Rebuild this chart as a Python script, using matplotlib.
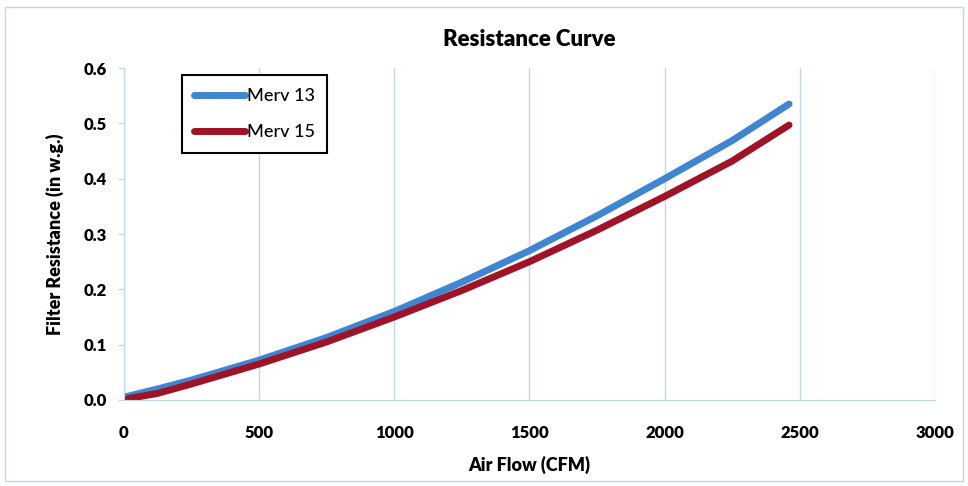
import matplotlib.pyplot as plt

# data
flow_13 = [0, 125, 250, 500, 750, 1000, 1250, 1500, 1750, 2000, 2250, 2460]
merv_13 = [0.005, 0.020, 0.036, 0.072, 0.113, 0.160, 0.213, 0.270, 0.333, 0.400, 0.469, 0.535]
flow_15 = [0, 125, 250, 500, 750, 1000, 1250, 1500, 1750, 2000, 2250, 2460]
merv_15 = [0.001, 0.012, 0.029, 0.065, 0.105, 0.150, 0.198, 0.250, 0.307, 0.368, 0.432, 0.497]
x_ticks = [0, 500, 1000, 1500, 2000, 2500, 3000]
y_ticks = [0.0, 0.1, 0.2, 0.3, 0.4, 0.5, 0.6]

plt.rcParams['font.family'] = ['Lato', 'DejaVu Sans']
grid_c = "#bcd8ee"

fig = plt.figure(figsize=(9.68, 4.86), dpi=100)
ax = fig.add_axes([0.128, 0.177, 0.838, 0.683])

ax.plot(flow_13, merv_13, color="#3f86d2", lw=5, solid_capstyle="round", label="Merv 13")
ax.plot(flow_15, merv_15, color="#a01225", lw=5, solid_capstyle="round", label="Merv 15")

ax.set_xlim(0, 3000)
ax.set_ylim(0, 0.6)
ax.set_xticks(x_ticks)
ax.set_yticks(y_ticks)
ax.set_yticklabels([f"{v:.1f}" for v in y_ticks])
ax.grid(axis="x", color=grid_c, lw=1)
ax.set_axisbelow(True)
for s in ["top", "right"]:
    ax.spines[s].set_visible(False)
for s in ["left", "bottom"]:
    ax.spines[s].set_color(grid_c)
ax.tick_params(axis="y", length=4, color=grid_c, labelsize=12, pad=8)
ax.tick_params(axis="x", length=0, labelsize=12, pad=18)
for lab in ax.get_xticklabels() + ax.get_yticklabels():
    lab.set_fontweight("heavy")

ax.set_title("Resistance Curve", fontsize=16, fontweight="heavy", pad=16)
ax.set_xlabel("Air Flow (CFM)", fontsize=13, fontweight="heavy", labelpad=11)
ax.set_ylabel("Filter Resistance (in w.g.)", fontsize=13, fontweight="heavy", labelpad=14)

leg = ax.legend(loc="upper left", bbox_to_anchor=(0.06, 1.005),
                prop={"size": 13, "weight": "medium"},
                fancybox=False, framealpha=1, edgecolor="black", handlelength=2.8,
                handletextpad=0.1, labelspacing=1.1, borderpad=0.7)
leg.get_frame().set_linewidth(1.5)

fig.patches.append(plt.Rectangle((0.005, 0.01), 0.99, 0.975, transform=fig.transFigure,
                                 fill=False, edgecolor=grid_c, lw=1))

fig.savefig("out.png", dpi=100)
